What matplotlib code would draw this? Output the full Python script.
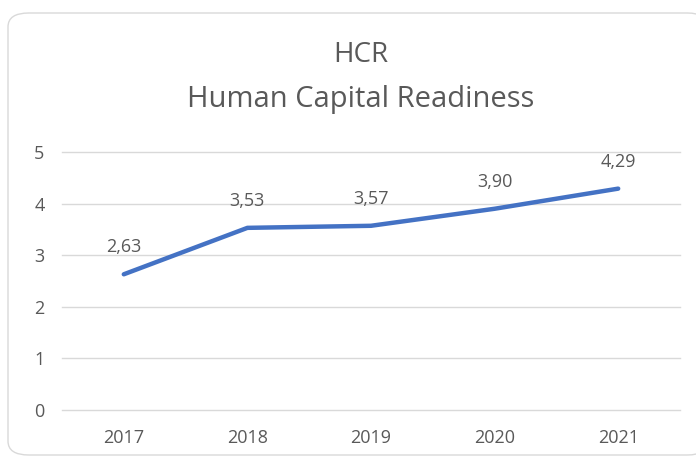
import matplotlib
matplotlib.use('Agg')
import matplotlib.pyplot as plt
from matplotlib.patches import FancyBboxPatch

years = ['2017', '2018', '2019', '2020', '2021']
hcr = [2.63, 3.53, 3.57, 3.90, 4.29]
yticks = [0, 1, 2, 3, 4, 5]

grey = '#595959'
plt.rcParams['font.family'] = ['Open Sans', 'DejaVu Sans']

fig = plt.figure(figsize=(6.96, 4.62), dpi=100)

# card outline with rounded corners
card = FancyBboxPatch((8 / 696, 7 / 462), 700 / 696, 442 / 462,
                      boxstyle='round,pad=0,rounding_size=0.03',
                      transform=fig.transFigure, facecolor='white',
                      edgecolor='#d9d9d9', linewidth=1.0, zorder=-5)
fig.patches.append(card)

ax = fig.add_axes([62 / 696, 1 - 410 / 462, 618 / 696, 258 / 462])
ax.set_facecolor('none')
x = list(range(len(years)))
ax.plot(x, hcr, color='#4472C4', linewidth=3.2, solid_capstyle='round')
for xi, v in zip(x, hcr):
    ax.annotate(f'{v:.2f}'.replace('.', ','), (xi, v), xytext=(0, 13),
                textcoords='offset points', ha='center', va='bottom',
                fontsize=13, color=grey)

ax.set_xlim(-0.5, len(years) - 0.5)
ax.set_ylim(0, 5)
ax.set_yticks(yticks)
ax.set_xticks(x)
ax.set_xticklabels(years)
ax.grid(axis='y', color='#d9d9d9', linewidth=1)
for gl in ax.get_ygridlines():
    gl.set_clip_on(False)
ax.set_axisbelow(True)
for s in ax.spines.values():
    s.set_visible(False)
ax.tick_params(length=0, labelsize=13, colors=grey)
ax.tick_params(axis='y', pad=20)
ax.tick_params(axis='x', pad=14)
for lbl in ax.get_yticklabels():
    lbl.set_horizontalalignment('left')

fig.text(0.518, 1 - 55 / 462, 'HCR', ha='center', va='center', fontsize=20, color=grey)
fig.text(0.518, 1 - 100 / 462, 'Human Capital Readiness', ha='center', va='center',
         fontsize=21, color=grey)

fig.savefig('out.png', dpi=100)
